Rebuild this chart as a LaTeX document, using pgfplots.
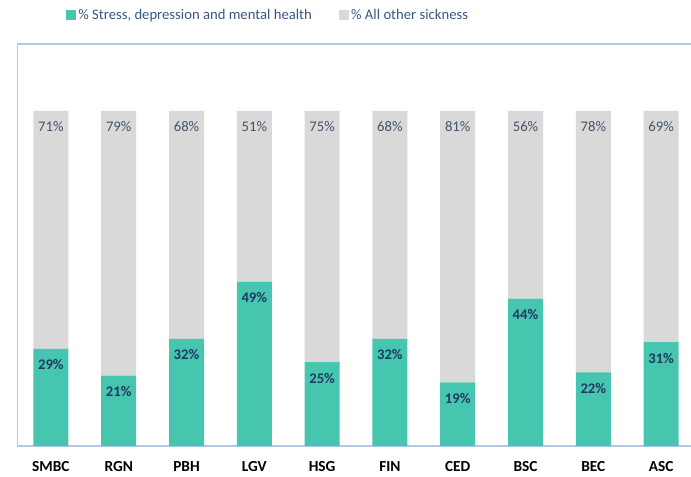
\documentclass[border=0pt]{standalone}
\usepackage{fontspec}
\setmainfont{Carlito}
\usepackage{pgfplots}
\usepackage{pgfplotstable}
\pgfplotsset{compat=1.18}
\definecolor{grn}{HTML}{46C6AE}
\definecolor{gry}{HTML}{D9D9D9}
\definecolor{framec}{HTML}{B4C7E7}
\definecolor{navy}{HTML}{203864}
\definecolor{slate}{HTML}{44546A}
\definecolor{legtxt}{HTML}{3A5683}
\pgfplotstableread{
x grn gry top
0 29 71 100
1 21 79 100
2 32 68 100
3 49 51 100
4 25 75 100
5 32 68 100
6 19 81 100
7 44 56 100
8 22 78 100
9 31 69 100
}\datatab
\pgfplotsset{
  common/.style={
    at={(12.75pt,23.25pt)}, anchor=south west,
    scale only axis, width=505.5pt, height=301.5pt,
    xmin=-0.5, xmax=9.441, ymin=0, ymax=120,
    /pgf/number format/assume math mode=true,
  }
}
\begin{document}
\begin{tikzpicture}
\useasboundingbox (0pt,0pt) rectangle (518.25pt,357.75pt);
\begin{axis}[
  common,
  ybar stacked, bar width=26.25pt,
  axis line style={draw=none},
  ytick=\empty,
  xtick={0,...,9},
  xticklabels={SMBC,RGN,PBH,LGV,HSG,FIN,CED,BSC,BEC,ASC},
  major tick length=0pt,
  xticklabel style={font=\bfseries\fontsize{11.5}{13}\selectfont, text=black, yshift=-8pt},
  legend style={at={(0.066,1.072)}, anchor=west, draw=none, fill=none,
    font=\fontsize{11}{13}\selectfont, text=legtxt,
    legend columns=2,
    /tikz/every even column/.append style={column sep=18pt}},
  legend image code/.code={\fill[#1] (0pt,-3.5pt) rectangle (7.5pt,4pt);},
]
\addplot[fill=grn, draw=none] table[x=x, y=grn] {\datatab};
\addplot[fill=gry, draw=none] table[x=x, y=gry] {\datatab};
\legend{{\% Stress, depression and mental health}, {\% All other sickness}}
\draw[framec, line width=0.8pt] (rel axis cs:1,0) -- (rel axis cs:0,0) -- (rel axis cs:0,1) -- (rel axis cs:1,1);
\end{axis}
\begin{axis}[
  common,
  hide axis,
  point meta=explicit,
  nodes near coords={\pgfmathprintnumber{\pgfplotspointmeta}\%},
]
\addplot[draw=none, mark=none,
  every node near coord/.append style={font=\bfseries\fontsize{11}{12}\selectfont, text=navy, anchor=center, yshift=-12pt}]
  table[x=x, y=grn, meta=grn] {\datatab};
\addplot[draw=none, mark=none,
  every node near coord/.append style={font=\fontsize{11}{12}\selectfont, text=slate, anchor=center, yshift=-12pt}]
  table[x=x, y=top, meta=gry] {\datatab};
\end{axis}
\end{tikzpicture}
\end{document}
